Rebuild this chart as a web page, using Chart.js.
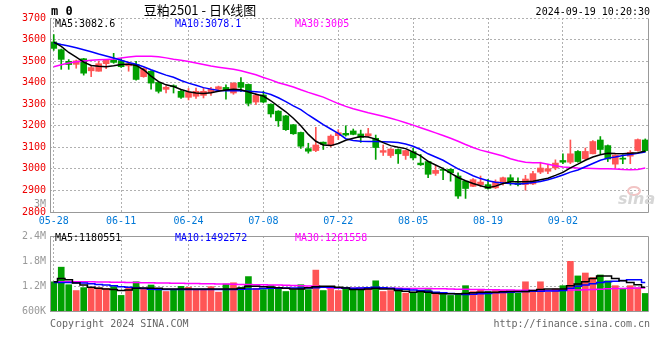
<!DOCTYPE html>
<html>
<head>
<meta charset="utf-8">
<script src="https://cdn.jsdelivr.net/npm/chart.js@4.4.1/dist/chart.umd.min.js"></script>
<style>
html, body { margin: 0; padding: 0; background: #fff; }
#wrap { position: relative; width: 660px; height: 360px; overflow: hidden; }
#k { position: absolute; left: 0; top: 0; }
#v { position: absolute; left: 0; top: 226px; }
</style>
</head>
<body>
<div id="wrap">
  <canvas id="k" width="660" height="230"></canvas>
  <canvas id="v" width="660" height="134"></canvas>
</div>
<script>
// trading days shown on the K chart
const dates = [
  '05-28','05-29','05-30','05-31',
  '06-03','06-04','06-05','06-06','06-07',
  '06-11','06-12','06-13','06-14',
  '06-17','06-18','06-19','06-20','06-21',
  '06-24','06-25','06-26','06-27','06-28',
  '07-01','07-02','07-03','07-04','07-05',
  '07-08','07-09','07-10','07-11','07-12',
  '07-15','07-16','07-17','07-18','07-19',
  '07-22','07-23','07-24','07-25','07-26',
  '07-29','07-30','07-31','08-01','08-02',
  '08-05','08-06','08-07','08-08','08-09',
  '08-12','08-13','08-14','08-15','08-16',
  '08-19','08-20','08-21','08-22','08-23',
  '08-26','08-27','08-28','08-29','08-30',
  '09-02','09-03','09-04','09-05','09-06',
  '09-09','09-10','09-11','09-12','09-13',
  '09-18','09-19'
];
const xTickLabels = ['05-28','06-11','06-24','07-08','07-22','08-05','08-19','09-02'];

const openP = [3589,3553,3499,3485,3511,3455,3453,3488,3505,3502,
  3478,3484,3428,3453,3401,3369,3386,3360,3332,3337,
  3341,3353,3369,3378,3352,3401,3392,3310,3343,3300,
  3268,3246,3205,3169,3094,3085,3124,3108,3154,3165,
  3176,3162,3153,3142,3077,3062,3090,3062,3080,3027,
  3034,2979,2996,2998,2967,2943,2919,2927,2927,2912,
  2940,2959,2935,2927,2930,2985,2989,3004,3039,3031,
  3081,3047,3070,3134,3108,3022,3050,3059,3085,3134];
const highP = [3623,3556,3507,3505,3513,3481,3500,3508,3536,3514,
  3496,3499,3468,3456,3403,3385,3390,3369,3373,3375,
  3375,3378,3384,3390,3400,3424,3394,3350,3360,3302,
  3270,3248,3206,3171,3119,3193,3125,3158,3182,3200,
  3185,3180,3188,3157,3111,3094,3093,3087,3097,3067,
  3036,3016,3005,3001,2982,2943,2955,2967,2952,2949,
  2962,2973,2959,2970,2989,3031,3019,3042,3070,3134,
  3085,3097,3131,3150,3111,3066,3065,3085,3139,3139];
const lowP = [3550,3462,3462,3467,3435,3428,3453,3465,3490,3471,
  3453,3412,3425,3370,3352,3352,3352,3327,3320,3327,
  3329,3341,3358,3324,3346,3358,3292,3298,3307,3240,
  3197,3178,3160,3095,3073,3080,3090,3102,3136,3152,
  3158,3123,3150,3044,3062,3053,3025,3044,3042,3016,
  2959,2970,2950,2943,2863,2863,2917,2917,2906,2909,
  2924,2924,2921,2901,2927,2978,2978,2996,3024,3024,
  3031,3044,3070,3070,3034,3005,3024,3024,3082,3078];
const closeP = [3559,3508,3484,3501,3444,3470,3488,3504,3494,3474,
  3488,3415,3465,3398,3360,3379,3381,3332,3355,3360,
  3360,3370,3381,3366,3398,3378,3304,3341,3310,3255,
  3223,3182,3163,3105,3082,3111,3114,3152,3168,3157,
  3160,3146,3163,3099,3085,3092,3070,3085,3051,3019,
  2975,2993,2993,2982,2874,2909,2950,2939,2909,2940,
  2959,2940,2927,2953,2978,3004,3001,3027,3031,3070,
  3034,3081,3127,3090,3046,3064,3045,3077,3136,3085];

// moving average lines
const ma5 = [3588,3568,3540,3518,3495,3480,3476,3474,3478,3484,
  3486,3480,3460,3430,3405,3390,3382,3368,3358,3352,
  3350,3353,3360,3366,3370,3367,3357,3346,3338,3316,
  3290,3265,3235,3200,3160,3128,3111,3108,3118,3133,
  3142,3150,3148,3138,3122,3108,3100,3094,3078,3060,
  3035,3018,3001,2980,2960,2945,2932,2922,2913,2920,
  2932,2940,2940,2940,2943,2950,2957,2970,2984,3005,
  3022,3040,3055,3066,3073,3071,3070,3072,3075,3083];
const ma10 = [3585,3577,3570,3562,3553,3543,3533,3524,3514,3504,
  3494,3485,3474,3460,3447,3435,3425,3410,3398,3388,
  3377,3370,3364,3362,3363,3362,3360,3358,3355,3345,
  3330,3312,3292,3275,3250,3228,3205,3185,3165,3140,
  3132,3128,3127,3127,3126,3125,3122,3115,3105,3090,
  3070,3055,3040,3020,3000,2985,2968,2955,2945,2938,
  2935,2932,2930,2932,2937,2942,2950,2960,2972,2985,
  2995,3010,3025,3040,3050,3055,3062,3067,3072,3078];
const ma30 = [3474,3483,3491,3497,3501,3504,3506,3508,3510,3514,
  3519,3522,3523,3523,3520,3515,3509,3504,3498,3491,
  3484,3477,3472,3467,3462,3455,3446,3437,3424,3413,
  3400,3390,3380,3367,3355,3344,3333,3318,3303,3290,
  3279,3270,3260,3252,3244,3235,3225,3214,3203,3191,
  3179,3167,3155,3142,3128,3113,3099,3087,3078,3069,
  3060,3047,3038,3031,3029,3028,3022,3015,3009,3006,
  3004,3003,3002,3001,3001,3000,2997,2996,2997,3004];

const volume = [1301000,1652000,1231000,1091000,1161000,1145000,1161000,1145000,1184000,974000,
  1145000,1301000,1145000,1224000,1145000,1068000,1114000,1192000,1169000,1114000,
  1114000,1184000,1052000,1247000,1278000,1169000,1426000,1145000,1114000,1208000,
  1161000,1068000,1114000,1231000,1114000,1582000,1091000,1145000,1091000,1169000,
  1145000,1145000,1145000,1325000,1068000,1091000,1145000,1028000,1052000,1068000,
  1114000,1028000,997000,974000,1014000,1208000,1068000,1114000,1068000,1091000,
  1091000,1068000,1028000,1301000,1091000,1301000,1052000,1130000,1208000,1792000,
  1442000,1512000,1403000,1465000,1325000,1208000,1145000,1208000,1154000,1021000];
const volMa5 = [1301000,1380000,1348000,1270000,1224000,1169000,1145000,1130000,1114000,1091000,
  1106000,1145000,1154000,1145000,1145000,1130000,1130000,1130000,1130000,1130000,
  1130000,1130000,1130000,1130000,1130000,1145000,1192000,1192000,1184000,1169000,
  1161000,1145000,1130000,1130000,1161000,1184000,1192000,1192000,1169000,1154000,
  1114000,1114000,1130000,1145000,1130000,1130000,1091000,1075000,1052000,1068000,
  1052000,1028000,1014000,1014000,1014000,1021000,1036000,1052000,1052000,1052000,
  1060000,1068000,1068000,1068000,1091000,1114000,1130000,1130000,1130000,1208000,
  1247000,1301000,1380000,1442000,1442000,1380000,1325000,1286000,1231000,1169000];
const volMa10 = [1286000,1286000,1286000,1278000,1270000,1255000,1239000,1224000,1208000,1184000,
  1169000,1154000,1138000,1122000,1114000,1114000,1114000,1114000,1114000,1114000,
  1114000,1114000,1114000,1114000,1114000,1122000,1130000,1130000,1138000,1145000,
  1145000,1154000,1154000,1154000,1154000,1161000,1169000,1169000,1161000,1154000,
  1145000,1154000,1161000,1169000,1161000,1145000,1130000,1122000,1106000,1091000,
  1075000,1052000,1036000,1021000,1014000,997000,1005000,1014000,1021000,1036000,
  1044000,1052000,1060000,1068000,1075000,1075000,1083000,1083000,1091000,1145000,
  1192000,1224000,1255000,1286000,1301000,1317000,1333000,1348000,1348000,1286000];
const volMa30 = [1301000,1301000,1301000,1301000,1301000,1301000,1298000,1295000,1292000,1289000,
  1286000,1283000,1280000,1277000,1273000,1270000,1267000,1264000,1261000,1258000,
  1255000,1252000,1249000,1246000,1242000,1239000,1236000,1233000,1230000,1227000,
  1224000,1218000,1212000,1205000,1198000,1192000,1170000,1154000,1150000,1148000,
  1145000,1145000,1145000,1145000,1145000,1145000,1144000,1143000,1141000,1140000,
  1138000,1135000,1132000,1128000,1125000,1122000,1119000,1116000,1112000,1109000,
  1106000,1103000,1100000,1097000,1094000,1091000,1094000,1097000,1100000,1103000,
  1106000,1112000,1119000,1125000,1132000,1138000,1142000,1146000,1150000,1154000];

const RED = '#ff5555';
const GREEN = '#00a000';
const GRID = '#b0b0b0';
const MONO = '"DejaVu Sans Mono", "Liberation Mono", monospace';

const candleColor = closeP.map((c, i) => c > openP[i] ? RED : GREEN);
const xTickIdx = xTickLabels.map(l => dates.indexOf(l));

// solid grey frame round the plot area
const frame = {
  id: 'frame',
  afterDraw(chart, args, opts) {
    const { ctx, chartArea: a } = chart;
    const l = Math.round(a.left) + 0.5, r = Math.round(a.right) - 0.5;
    const t = Math.round(a.top) + 0.5, b = Math.round(a.bottom) + 0.5;
    ctx.save();
    ctx.strokeStyle = '#999';
    ctx.lineWidth = 1;
    ctx.beginPath();
    ctx.moveTo(l, t); ctx.lineTo(l, b); ctx.lineTo(r, b); ctx.lineTo(r, t);
    if (opts.top) { ctx.lineTo(l, t); }
    ctx.stroke();
    ctx.restore();
  }
};

// texts written on the picture
const texts = {
  id: 'texts',
  afterDraw(chart, args, opts) {
    const ctx = chart.ctx;
    ctx.save();
    ctx.textBaseline = 'middle';
    (opts.items || []).forEach(t => {
      ctx.font = t.font || ('10px ' + MONO);
      ctx.fillStyle = t.color || '#000';
      ctx.textAlign = t.align || 'left';
      ctx.fillText(t.text, t.x, t.y);
    });
    if (opts.logo) {
      ctx.strokeStyle = '#f2c4c4';
      ctx.lineWidth = 2;
      ctx.beginPath();
      ctx.ellipse(634, 191, 6, 4, 0, 0, Math.PI * 2);
      ctx.stroke();
      ctx.font = 'italic bold 16px "DejaVu Sans", sans-serif';
      ctx.fillStyle = '#d6d6d6';
      ctx.textAlign = 'left';
      ctx.fillText('sina', 618, 200);
    }
    ctx.restore();
  }
};

const xAxis = (showTicks) => ({
  type: 'category',
  offset: true,
  grid: { color: GRID, offset: false, drawTicks: false },
  border: { display: false, dash: [2, 2] },
  ticks: {
    display: showTicks, autoSkip: false, maxRotation: 0, padding: 3,
    color: '#0078d7', font: { family: MONO, size: 10 }
  },
  afterBuildTicks: axis => { axis.ticks = xTickIdx.map(v => ({ value: v })); },
  afterFit: axis => { axis.height = showTicks ? 18 : 0; }
});

const line = (data, color, stepped) => ({
  type: 'line', data: data, borderColor: color, borderWidth: 1.5,
  pointRadius: 0, tension: 0, stepped: stepped || false, order: 0
});

new Chart(document.getElementById('k'), {
  type: 'bar',
  data: {
    labels: dates,
    datasets: [
      line(ma5, '#000000'),
      line(ma10, '#0000ff'),
      line(ma30, '#ff00ff'),
      {
        type: 'bar', data: openP.map((o, i) => [o, closeP[i]]),
        backgroundColor: candleColor, barThickness: 6, minBarLength: 1,
        grouped: false, order: 1
      },
      {
        type: 'bar', data: lowP.map((l, i) => [l, highP[i]]),
        backgroundColor: candleColor, barThickness: 1,
        grouped: false, order: 2
      }
    ]
  },
  options: {
    responsive: false,
    animation: false,
    layout: { padding: { top: 18, right: 11, left: 0, bottom: 0 } },
    plugins: {
      legend: { display: false },
      tooltip: { enabled: false },
      frame: { top: false },
      texts: {
        logo: true,
        items: [
          { text: 'm 0', x: 51, y: 12, font: 'bold 12px ' + MONO },
          { text: '豆粕2501 - 日K线图', x: 200, y: 10, align: 'center', font: '13px "Noto Sans CJK SC", sans-serif' },
          { text: '2024-09-19 10:20:30', x: 650, y: 12, align: 'right' },
          { text: 'MA5:3082.6', x: 55, y: 24 },
          { text: 'MA10:3078.1', x: 175, y: 24, color: '#0000ff' },
          { text: 'MA30:3005', x: 295, y: 24, color: '#ff00ff' },
          { text: '3M', x: 46, y: 204, align: 'right', color: '#999' }
        ]
      }
    },
    scales: {
      x: xAxis(true),
      y: {
        min: 2800, max: 3700,
        grid: { color: GRID, drawTicks: false },
        border: { display: false, dash: [2, 2] },
        ticks: {
          stepSize: 100, padding: 4, color: '#ee0000', font: { family: MONO, size: 10 },
          callback: v => String(v)
        },
        afterFit: axis => { axis.width = 50; }
      }
    }
  },
  plugins: [frame, texts]
});

new Chart(document.getElementById('v'), {
  type: 'bar',
  data: {
    labels: dates,
    datasets: [
      line(volMa5, '#000000', 'middle'),
      line(volMa10, '#0000ff', 'middle'),
      line(volMa30, '#ff00ff', 'middle'),
      { type: 'bar', data: volume, backgroundColor: candleColor, barThickness: 6, order: 1 }
    ]
  },
  options: {
    responsive: false,
    animation: false,
    layout: { padding: { top: 8, right: 11, left: 0, bottom: 49 } },
    plugins: {
      legend: { display: false },
      tooltip: { enabled: false },
      frame: { top: true },
      texts: {
        items: [
          { text: 'MA5:1180551', x: 55, y: 12 },
          { text: 'MA10:1492572', x: 175, y: 12, color: '#0000ff' },
          { text: 'MA30:1261558', x: 295, y: 12, color: '#ff00ff' },
          { text: 'Copyright 2024 SINA.COM', x: 50, y: 98, color: '#666' },
          { text: 'http://finance.sina.com.cn', x: 650, y: 98, align: 'right', color: '#666' }
        ]
      }
    },
    scales: {
      x: xAxis(false),
      y: {
        min: 600000, max: 2400000,
        grid: { color: GRID, drawTicks: false },
        border: { display: false, dash: [2, 2] },
        ticks: {
          stepSize: 600000, padding: 4, color: '#999', font: { family: MONO, size: 10 },
          callback: v => v >= 1000000 ? (v / 1000000) + 'M' : (v / 1000) + 'K'
        },
        afterFit: axis => { axis.width = 50; }
      }
    }
  },
  plugins: [frame, texts]
});
</script>
</body>
</html>
